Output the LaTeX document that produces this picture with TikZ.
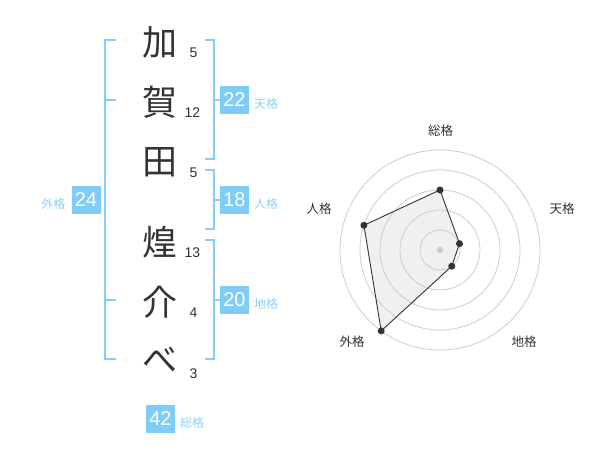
\documentclass[tikz,border=0pt]{standalone}
\usepackage{fontspec}
\setmainfont{Liberation Sans}
\newfontfamily\cjk{Noto Sans CJK JP}
\definecolor{boxblue}{HTML}{80CCF8}
\definecolor{lineblue}{HTML}{86CEF7}
\definecolor{labblue}{HTML}{8DD0F5}
\definecolor{darktext}{HTML}{333333}
\definecolor{ringgray}{HTML}{CCCCCC}
\definecolor{polyfill}{HTML}{F0F0F0}
\begin{document}
\begin{tikzpicture}[x=1pt,y=-1pt,
  bigchar/.style={font=\cjk\fontsize{35}{35}\selectfont, text=darktext, inner sep=0pt, anchor=center},
  stroke/.style={font=\fontsize{14}{14}\selectfont, text=darktext, inner sep=0pt, anchor=center},
  scorebox/.style={fill=boxblue, text=white, font=\fontsize{20}{20}\selectfont, minimum width=29pt, minimum height=28pt, inner sep=0pt},
  kaku/.style={font=\cjk\fontsize{12}{12}\selectfont, text=labblue, inner sep=0pt},
  bracket/.style={draw=lineblue, line width=2pt},
  ring/.style={draw=ringgray, line width=0.8pt},
  radlab/.style={font=\cjk\fontsize{12.5}{12.5}\selectfont, text=darktext, inner sep=0pt},
  dot/.style={circle, fill=darktext, inner sep=0pt, minimum size=7pt}
]
\useasboundingbox (0,0) rectangle (600,470);
% characters
\node[bigchar] (c1) at (159.5,42) {加};
\node[bigchar] (c2) at (159.5,102) {賀};
\node[bigchar] (c3) at (159.5,162) {田};
\node[bigchar] (c4) at (159.5,242) {煌};
\node[bigchar] (c5) at (159.5,302) {介};
\node[bigchar] (c6) at (159.5,360) {べ};
% stroke counts
\node[stroke] (s1) at (193.5,53) {5};
\node[stroke] (s2) at (192.5,113) {12};
\node[stroke] (s3) at (193.5,173) {5};
\node[stroke] (s4) at (192.5,253) {13};
\node[stroke] (s5) at (193.5,313) {4};
\node[stroke] (s6) at (193.5,373.5) {3};
% left bracket (gaikaku)
\draw[bracket] (116,40) -- (105,40) -- (105,359.5) -- (116,359.5);
\draw[bracket] (105,100) -- (116,100);
\draw[bracket] (105,300) -- (116,300);
\node[scorebox] (b24) at (86,200) {24};
\node[kaku] (l24) at (53.5,204) {外格};
% tenkaku
\draw[bracket] (205,40) -- (214,40) -- (214,159.5) -- (205,159.5);
\draw[bracket] (214,100) -- (220,100);
\node[scorebox] (b22) at (234.5,100) {22};
\node[kaku] (l22) at (266,104) {天格};
% jinkaku
\draw[bracket] (205,170) -- (214,170) -- (214,229.5) -- (205,229.5);
\draw[bracket] (214,200) -- (220,200);
\node[scorebox] (b18) at (234.5,200) {18};
\node[kaku] (l18) at (266,204) {人格};
% chikaku
\draw[bracket] (205,240) -- (214,240) -- (214,359.5) -- (205,359.5);
\draw[bracket] (214,300) -- (220,300);
\node[scorebox] (b20) at (234.5,300) {20};
\node[kaku] (l20) at (266,304) {地格};
% sokaku
\node[scorebox] (b42) at (160.5,419) {42};
\node[kaku] (l42) at (192,422.5) {総格};
% radar
\begin{scope}[shift={(440,250)}]
  \coordinate (pS) at (-90:60);
  \coordinate (pT) at (-18:20.5);
  \coordinate (pC) at (54:20);
  \coordinate (pG) at (126:100);
  \coordinate (pJ) at (198:80);
  \fill[polyfill] (pS) -- (pT) -- (pC) -- (pG) -- (pJ) -- cycle;
  \foreach \r in {20,40,60,80,100} \draw[ring] (0,0) circle[radius=\r];
  \draw[darktext, line width=0.9pt, line join=round] (pS) -- (pT) -- (pC) -- (pG) -- (pJ) -- cycle;
  \fill[ringgray] (0,0) circle[radius=3.2];
  \foreach \p in {pS,pT,pC,pG,pJ} \node[dot] at (\p) {};
\end{scope}
\node[radlab] (rS) at (440.5,131) {総格};
\node[radlab] (rT) at (562,209) {天格};
\node[radlab] (rC) at (524,342) {地格};
\node[radlab] (rG) at (352,342) {外格};
\node[radlab] (rJ) at (319,209) {人格};
\end{tikzpicture}
\end{document}
